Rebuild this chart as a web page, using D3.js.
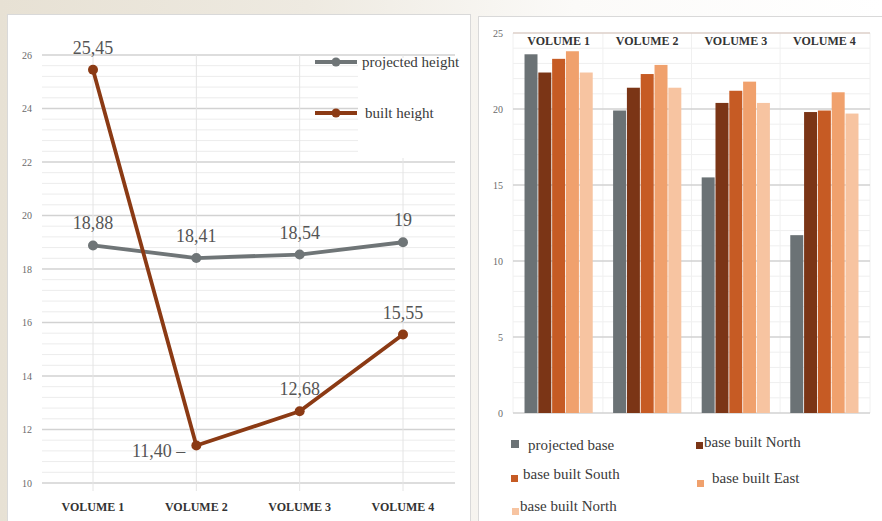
<!DOCTYPE html>
<html>
<head>
<meta charset="utf-8">
<script src="https://cdn.jsdelivr.net/npm/d3@7"></script>
<style>
  body { margin: 0; background: #fff; }
  svg { display: block; font-family: "Liberation Serif", "DejaVu Serif", serif; }
</style>
</head>
<body>
<svg id="chart" width="882" height="521"></svg>
<script>
// ---- data ----
const volumes = ["VOLUME 1", "VOLUME 2", "VOLUME 3", "VOLUME 4"];

// heights (left panel)
const heightSeriesNames = ["projected height", "built height"];
const projectedHeight = [18.88, 18.41, 18.54, 19];
const builtHeight = [25.45, 11.40, 12.68, 15.55];
const heightTicks = [10, 12, 14, 16, 18, 20, 22, 24, 26];

// bases (right panel)
const baseSeriesNames = ["projected base", "base built North", "base built South", "base built East", "base built North"];
const projectedBase = [23.6, 19.9, 15.5, 11.7];
const baseBuiltNorth = [22.4, 21.4, 20.4, 19.8];
const baseBuiltSouth = [23.3, 22.3, 21.2, 19.9];
const baseBuiltEast = [23.8, 22.9, 21.8, 21.1];
const baseBuiltNorth2 = [22.4, 21.4, 20.4, 19.7];
const baseTicks = [0, 5, 10, 15, 20, 25];

// ---- styling ----
const heightColors = ["#6f7577", "#8b3a14"];
const baseColors = ["#6b7275", "#7b3516", "#c65b24", "#f0a16d", "#f7c4a1"];
const fmt = v => Number.isInteger(v) ? String(v) : v.toFixed(2).replace(".", ",");

const svg = d3.select("#chart");

// page background: warm paper fading to white
const defs = svg.append("defs");
const bg = defs.append("linearGradient").attr("id", "paper").attr("x1", 0).attr("x2", 1).attr("y1", 0).attr("y2", 0);
bg.append("stop").attr("offset", 0).attr("stop-color", "#e7e1d4");
bg.append("stop").attr("offset", 0.35).attr("stop-color", "#eeeae1");
bg.append("stop").attr("offset", 0.65).attr("stop-color", "#fbfaf8");
bg.append("stop").attr("offset", 1).attr("stop-color", "#ffffff");
svg.append("rect").attr("width", 882).attr("height", 521).attr("fill", "url(#paper)");

// panels
svg.append("rect").attr("x", 7.5).attr("y", 14.5).attr("width", 463).attr("height", 530)
  .attr("fill", "#fff").attr("stroke", "#d9d9d9");
svg.append("rect").attr("x", 478.5).attr("y", 16.5).attr("width", 420).attr("height", 530)
  .attr("fill", "#fff").attr("stroke", "#d9d9d9");

// =========================== LEFT: heights ===========================
const L = svg.append("g");
const xL = d3.scalePoint().domain(volumes).range([93, 403]);
const yL = d3.scaleLinear().domain([10, 26]).range([483, 55]);
const gxL0 = 42, gxL1 = 455;

// minor gridlines every 0.4
const minorL = d3.range(0, 41).filter(i => i % 5 !== 0).map(i => 10 + i * 0.4);
L.append("g").selectAll("line").data(minorL).join("line")
  .attr("x1", gxL0).attr("x2", gxL1)
  .attr("y1", d => yL(d)).attr("y2", d => yL(d))
  .attr("stroke", "#ececec").attr("stroke-width", 1);
// major gridlines
L.append("g").selectAll("line").data(heightTicks).join("line")
  .attr("x1", gxL0).attr("x2", gxL1)
  .attr("y1", d => yL(d)).attr("y2", d => yL(d))
  .attr("stroke", "#d2d2d2").attr("stroke-width", 1.3);
// vertical category gridlines
L.append("g").selectAll("line").data(volumes).join("line")
  .attr("x1", d => xL(d)).attr("x2", d => xL(d))
  .attr("y1", yL(26)).attr("y2", yL(10) + 8)
  .attr("stroke", "#e4e4e4").attr("stroke-width", 1);

// y tick labels
L.append("g").selectAll("text").data(heightTicks).join("text")
  .attr("x", 27).attr("y", d => yL(d) + 3.5)
  .attr("text-anchor", "middle").attr("font-size", 10).attr("fill", "#6a6a6a")
  .text(d => d);
// category labels
L.append("g").selectAll("text").data(volumes).join("text")
  .attr("x", d => xL(d)).attr("y", 511)
  .attr("text-anchor", "middle").attr("font-size", 12).attr("font-weight", "bold").attr("fill", "#333")
  .text(d => d);

// legend box over the grid
L.append("rect").attr("x", 358).attr("y", 58).attr("width", 104).attr("height", 100).attr("fill", "#fff");

const heightSeries = [projectedHeight, builtHeight];
const line = d3.line().x((d, i) => xL(volumes[i])).y(d => yL(d));
heightSeries.forEach((vals, s) => {
  const g = L.append("g");
  g.append("path").datum(vals).attr("d", line)
    .attr("fill", "none").attr("stroke", heightColors[s]).attr("stroke-width", 3.8)
    .attr("stroke-linejoin", "round");
  g.selectAll("circle").data(vals).join("circle")
    .attr("cx", (d, i) => xL(volumes[i])).attr("cy", d => yL(d)).attr("r", 5)
    .attr("fill", heightColors[s]);
});

// value labels: above each point, the series minimum of the built line sits to the left
heightSeries.forEach((vals, s) => {
  const minIdx = d3.minIndex(vals);
  L.append("g").selectAll("text").data(vals).join("text")
    .attr("x", (d, i) => (s === 1 && i === minIdx) ? xL(volumes[i]) - 11 : xL(volumes[i]))
    .attr("y", (d, i) => (s === 1 && i === minIdx) ? yL(d) + 11 : yL(d) - 16)
    .attr("text-anchor", (d, i) => (s === 1 && i === minIdx) ? "end" : "middle")
    .attr("font-size", 18).attr("fill", "#555")
    .text((d, i) => (s === 1 && i === minIdx) ? fmt(d) + " –" : fmt(d));
});

// legend
const legL = L.append("g");
heightSeriesNames.forEach((name, s) => {
  const ly = s === 0 ? 62 : 113;
  legL.append("line").attr("x1", 315).attr("x2", 357).attr("y1", ly).attr("y2", ly)
    .attr("stroke", heightColors[s]).attr("stroke-width", 3.8);
  legL.append("circle").attr("cx", 336).attr("cy", ly).attr("r", 4.5).attr("fill", heightColors[s]);
  legL.append("text").attr("x", s === 0 ? 362 : 365).attr("y", ly + 5)
    .attr("font-size", 15).attr("fill", "#3a3a3a").text(name);
});

// =========================== RIGHT: bases ===========================
const R = svg.append("g");
const yR = d3.scaleLinear().domain([0, 25]).range([413, 33]);
const xG = d3.scaleBand().domain(volumes).range([513, 870]).paddingInner(0.23).paddingOuter(0.13);
const seriesIdx = d3.range(baseSeriesNames.length);
const xS = d3.scaleBand().domain(seriesIdx).range([0, xG.bandwidth()]).paddingInner(0.06);
const gxR0 = 513, gxR1 = 870;

// minor gridlines every 1
const minorR = d3.range(0, 26).filter(v => v % 5 !== 0);
R.append("g").selectAll("line").data(minorR).join("line")
  .attr("x1", gxR0).attr("x2", gxR1)
  .attr("y1", d => yR(d)).attr("y2", d => yR(d))
  .attr("stroke", "#efefef").attr("stroke-width", 1);
// vertical separators between groups
const seps = [gxR0, ...volumes.slice(1).map(v => xG(v) - (xG.step() - xG.bandwidth()) / 2), gxR1];
R.append("g").selectAll("line").data(seps).join("line")
  .attr("x1", d => d).attr("x2", d => d).attr("y1", yR(25)).attr("y2", yR(0))
  .attr("stroke", "#f0f0f0").attr("stroke-width", 1);
// major gridlines
R.append("g").selectAll("line").data(baseTicks).join("line")
  .attr("x1", gxR0).attr("x2", gxR1)
  .attr("y1", d => yR(d)).attr("y2", d => yR(d))
  .attr("stroke", d => d === 25 ? "#dccfc8" : "#d2d2d2").attr("stroke-width", 1.3);

// y tick labels
R.append("g").selectAll("text").data(baseTicks).join("text")
  .attr("x", 503).attr("y", d => yR(d) + 3.5)
  .attr("text-anchor", "end").attr("font-size", 10).attr("fill", "#6a6a6a")
  .text(d => d);

// bars
const baseSeries = [projectedBase, baseBuiltNorth, baseBuiltSouth, baseBuiltEast, baseBuiltNorth2];
const groups = R.append("g").selectAll("g").data(volumes).join("g")
  .attr("transform", d => `translate(${xG(d)},0)`);
groups.selectAll("rect")
  .data((v, gi) => baseSeries.map((vals, s) => ({ s, value: vals[gi] })))
  .join("rect")
  .attr("x", d => xS(d.s)).attr("width", xS.bandwidth())
  .attr("y", d => yR(d.value)).attr("height", d => yR(0) - yR(d.value))
  .attr("fill", d => baseColors[d.s]);

// category labels at the top
R.append("g").selectAll("text").data(volumes).join("text")
  .attr("x", d => xG(d) + xG.bandwidth() / 2).attr("y", 45)
  .attr("text-anchor", "middle").attr("font-size", 12).attr("font-weight", "bold").attr("fill", "#333")
  .text(d => d);

// legend (two columns, three rows)
const legendSlots = [
  { sx: 511, sy: 440, size: 8, tx: 528, ty: 450 },
  { sx: 696, sy: 442, size: 7, tx: 704, ty: 447 },
  { sx: 511, sy: 475, size: 7, tx: 523, ty: 479 },
  { sx: 697, sy: 480, size: 7, tx: 712, ty: 483 },
  { sx: 512, sy: 508, size: 7, tx: 520, ty: 511 }
];
const legR = R.append("g");
baseSeriesNames.forEach((name, s) => {
  const p = legendSlots[s];
  legR.append("rect").attr("x", p.sx).attr("y", p.sy).attr("width", p.size).attr("height", p.size)
    .attr("fill", baseColors[s]);
  legR.append("text").attr("x", p.tx).attr("y", p.ty)
    .attr("font-size", 15).attr("fill", "#3a3a3a").text(name);
});
</script>
</body>
</html>
